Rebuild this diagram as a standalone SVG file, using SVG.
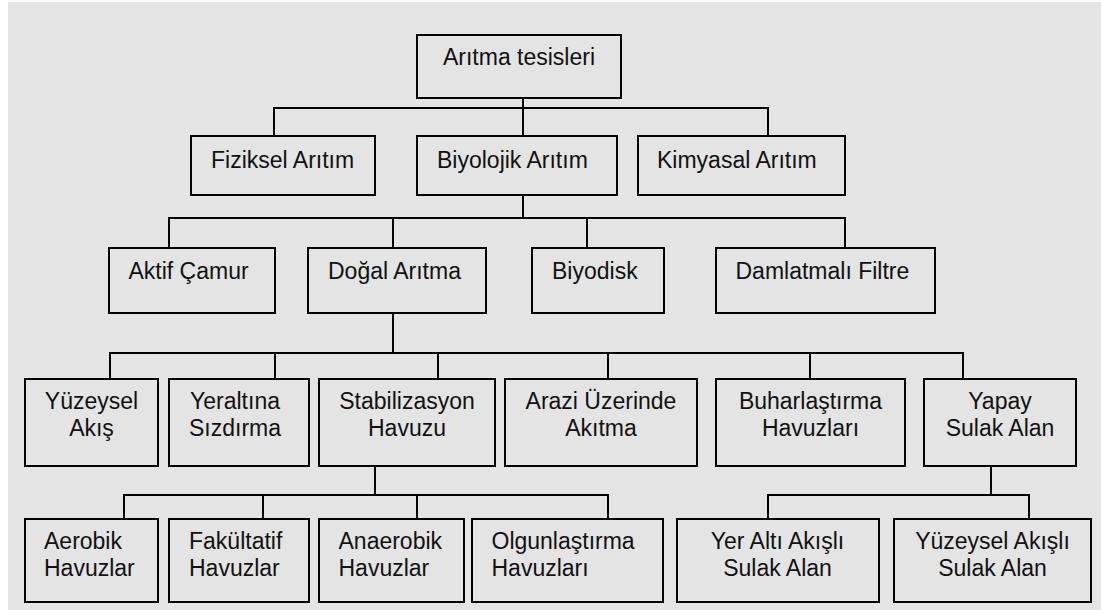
<svg xmlns="http://www.w3.org/2000/svg" width="1101" height="610" viewBox="0 0 1101 610">
<style>
.box{fill:none;stroke:#000;stroke-width:2}
.c{fill:none;stroke:#000;stroke-width:2}
text{font-family:"Liberation Sans",Arial,sans-serif;font-size:23px;fill:#111}
.m{text-anchor:middle}
</style>
<rect x="0" y="0" width="1101" height="610" fill="#fff"/>
<rect x="8" y="2" width="1093" height="608" fill="#e4e4e4"/>
<g id="connectors">
<path class="c" d="M523 98V108M274 136V108H768V136M523 108V136"/>
<path class="c" d="M523 195V218M169 248V218H845V248M393 218V248M587 218V248"/>
<path class="c" d="M393 313V353M110 379V353H963V379M275 353V379M438 353V379M608 353V379M810 353V379"/>
<path class="c" d="M375 466V495M124 519V495H608V519M263 495V519M417 495V519"/>
<path class="c" d="M991 466V495M768 519V495H1029V519"/>
</g>
<g id="n-root"><rect class="box" x="417" y="35" width="204" height="63"/><text class="m" x="519" y="65">Arıtma tesisleri</text></g>
<g id="n-fiziksel"><rect class="box" x="191" y="136" width="184" height="59"/><text x="211" y="168">Fiziksel Arıtım</text></g>
<g id="n-biyolojik"><rect class="box" x="417" y="136" width="200" height="59"/><text x="437" y="168">Biyolojik Arıtım</text></g>
<g id="n-kimyasal"><rect class="box" x="638" y="136" width="207" height="59"/><text x="657" y="168">Kimyasal Arıtım</text></g>
<g id="n-aktif"><rect class="box" x="109" y="248" width="166" height="65"/><text x="128.5" y="279">Aktif Çamur</text></g>
<g id="n-dogal"><rect class="box" x="308" y="248" width="178" height="65"/><text x="328" y="279">Doğal Arıtma</text></g>
<g id="n-biyodisk"><rect class="box" x="532" y="248" width="132" height="65"/><text x="552" y="279">Biyodisk</text></g>
<g id="n-damlatmali"><rect class="box" x="716" y="248" width="219" height="65"/><text x="735.5" y="279">Damlatmalı Filtre</text></g>
<g id="n-yuzeysel"><rect class="box" x="25" y="379" width="133" height="87"/><text class="m" x="91.5" y="409">Yüzeysel</text><text class="m" x="91.5" y="436">Akış</text></g>
<g id="n-yeraltina"><rect class="box" x="169" y="379" width="140" height="87"/><text class="m" x="235" y="409">Yeraltına</text><text class="m" x="235" y="436">Sızdırma</text></g>
<g id="n-stabilizasyon"><rect class="box" x="319" y="379" width="176" height="87"/><text class="m" x="407" y="409">Stabilizasyon</text><text class="m" x="407" y="436">Havuzu</text></g>
<g id="n-arazi"><rect class="box" x="505" y="379" width="192" height="87"/><text class="m" x="601" y="409">Arazi Üzerinde</text><text class="m" x="601" y="436">Akıtma</text></g>
<g id="n-buharlastirma"><rect class="box" x="716" y="379" width="189" height="87"/><text class="m" x="810.5" y="409">Buharlaştırma</text><text class="m" x="810.5" y="436">Havuzları</text></g>
<g id="n-yapay"><rect class="box" x="924" y="379" width="152" height="87"/><text class="m" x="1000" y="409">Yapay</text><text class="m" x="1000" y="436">Sulak Alan</text></g>
<g id="n-aerobik"><rect class="box" x="25" y="519" width="133" height="83"/><text x="44" y="549">Aerobik</text><text x="44" y="576">Havuzlar</text></g>
<g id="n-fakultatif"><rect class="box" x="169" y="519" width="140" height="83"/><text x="189" y="549">Fakültatif</text><text x="189" y="576">Havuzlar</text></g>
<g id="n-anaerobik"><rect class="box" x="319" y="519" width="145" height="83"/><text x="338.5" y="549">Anaerobik</text><text x="338.5" y="576">Havuzlar</text></g>
<g id="n-olgunlastirma"><rect class="box" x="472" y="519" width="191" height="83"/><text x="491.5" y="549">Olgunlaştırma</text><text x="491.5" y="576">Havuzları</text></g>
<g id="n-yeralti"><rect class="box" x="677" y="519" width="202" height="83"/><text class="m" x="777.5" y="549">Yer Altı Akışlı</text><text class="m" x="777.5" y="576">Sulak Alan</text></g>
<g id="n-yuzeysel-akisli"><rect class="box" x="894" y="519" width="197" height="83"/><text class="m" x="992.5" y="549">Yüzeysel Akışlı</text><text class="m" x="992.5" y="576">Sulak Alan</text></g>
</svg>
